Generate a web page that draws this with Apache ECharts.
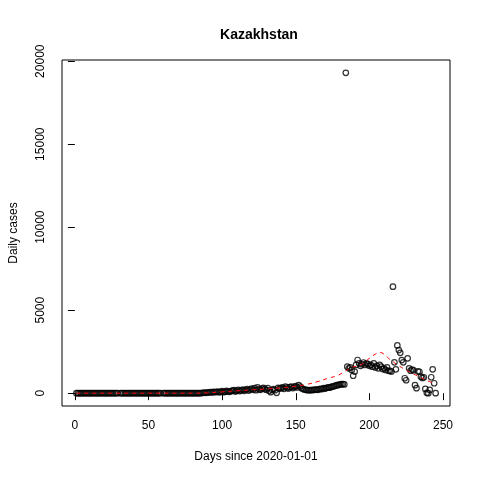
<!DOCTYPE html>
<html>
<head>
<meta charset="utf-8">
<script src="https://cdn.jsdelivr.net/npm/echarts@6/dist/echarts.min.js"></script>
<style>
  html, body { margin: 0; padding: 0; background: #fff; }
  #chart { width: 480px; height: 480px; }
</style>
</head>
<body>
<div id="chart"></div>
<script>
// daily cases, one value per day starting at day 1 (null = no value)
var firstDay = 1;
var cases = [
  0, 0, 0, 0, 0, 0, 0, 0, 0, 0,
  0, 0, 0, 0, 0, 0, 0, 0, 0, 0,
  0, 0, 0, 0, 0, 0, 0, 0, 0, null,
  0, 0, 0, 0, 0, 0, 0, 0, 0, 0,
  0, 0, 0, 0, 0, 0, 0, 0, 0, 0,
  0, 0, 0, 0, 0, 0, 0, 0, null, 0,
  0, 0, 0, 0, 0, 0, 0, 0, 0, 0,
  0, 0, 0, 0, 0, 0, 0, 0, 0, 0,
  0, 0, 0, 0, 0, 10, 20, 30, 20, 40,
  50, 60, 40, 80, 60, 70, 100, 50, 80, 120,
  60, 90, 140, 100, 80, 120, 150, 180, 100, 150,
  200, 130, 170, 220, 140, 200, 250, 160, 220, 280,
  200, 300, 180, 350, 240, 200, 280, 320, 250, 200,
  300, 150, 60, 200, 250, 180, 20, 320, 280, 300,
  350, 260, 400, 330, 280, 360, 400, 310, 380, 420,
  350, 480, 400, 300, 250, 220, 200, 180, 190, 170,
  200, 190, 210, 220, 200, 240, 260, 250, 300, 280,
  320, 350, 330, 380, 400, 420, 450, 480, 500, 520,
  540, 550, 530, 19300, 1600, 1500, 1550, 1400, 1050, 1300,
  1700, 2000, 1800, 1650, 1750, 1850, 1700, 1800, 1750, 1650,
  1700, 1600, 1800, 1550, 1650, 1500, 1700, 1600, 1450, 1500,
  1400, 1550, 1350, 1350, 1300, 6415, 1860, 1439, 2878, 2596,
  2434, 1996, 1860, 899, 779, 2098, 1499, 1355, 1420, 1379,
  480, 300, 1319, 1290, 995, 917, 959, 258, 20, 0,
  198, 959, 1439, 600, 0
];

// red dashed smooth curve
var smoothDays  = [1, 80, 90, 100, 110, 120, 130, 140, 150, 158, 165, 172, 178, 183, 188, 194, 200, 204, 207, 210, 213, 216, 220, 225, 230, 234, 238, 241, 245];
var smoothCases = [0, 0, 20, 80, 140, 200, 260, 320, 420, 540, 700, 900, 1050, 1295, 1550, 1700, 2100, 2350, 2460, 2350, 2100, 1900, 1650, 1396, 1150, 995, 800, 695, 580];

var xTicks = [0, 50, 100, 150, 200, 250];
var yTicks = [0, 5000, 10000, 15000, 20000];

var points = [];
cases.forEach(function (v, i) {
    if (v !== null) points.push([firstDay + i, v]);
});
var curve = smoothDays.map(function (d, i) { return [d, smoothCases[i]]; });

var font = 'Liberation Sans, Arial, sans-serif';
var plain = function (v) { return String(v); };

var chart = echarts.init(document.getElementById('chart'), null, { renderer: 'canvas' });
chart.setOption({
    animation: false,
    backgroundColor: '#fff',
    title: {
        text: 'Kazakhstan',
        left: 254, top: 23,
        textAlign: 'center',
        textStyle: { fontFamily: font, fontSize: 14, fontWeight: 'bold', color: '#000' }
    },
    grid: {
        left: 59, right: 30, top: 60, bottom: 74,
        show: true, borderColor: '#000', borderWidth: 1, backgroundColor: 'transparent'
    },
    xAxis: {
        type: 'value',
        min: -8.76, max: 254.76,
        name: 'Days since 2020-01-01',
        nameLocation: 'middle', nameGap: 45,
        nameTextStyle: { fontFamily: font, fontSize: 12, color: '#000' },
        splitLine: { show: false },
        axisLine: { show: false },
        axisTick: { show: true, inside: false, length: 7, customValues: xTicks, lineStyle: { color: '#000' } },
        axisLabel: { customValues: xTicks, formatter: plain, margin: 14, fontFamily: font, fontSize: 12, color: '#000' }
    },
    yAxis: {
        type: 'value',
        min: -772, max: 20072,
        name: 'Daily cases',
        nameLocation: 'middle', nameGap: 42,
        nameTextStyle: { fontFamily: font, fontSize: 12, color: '#000' },
        splitLine: { show: false },
        axisLine: { show: false },
        axisTick: { show: true, inside: false, length: 7, customValues: yTicks, lineStyle: { color: '#000' } },
        axisLabel: { customValues: yTicks, formatter: plain, rotate: 90, margin: 15, fontFamily: font, fontSize: 12, color: '#000' }
    },
    series: [
        {
            type: 'scatter',
            data: points,
            symbol: 'circle',
            symbolSize: 5.5,
            itemStyle: { color: 'rgba(0,0,0,0)', borderColor: '#000', borderWidth: 1.2 },
            z: 2
        },
        {
            type: 'line',
            data: curve,
            smooth: 0.4,
            showSymbol: false,
            lineStyle: { color: '#ff0000', width: 1, type: [4, 4] },
            z: 3
        }
    ]
});
</script>
</body>
</html>
